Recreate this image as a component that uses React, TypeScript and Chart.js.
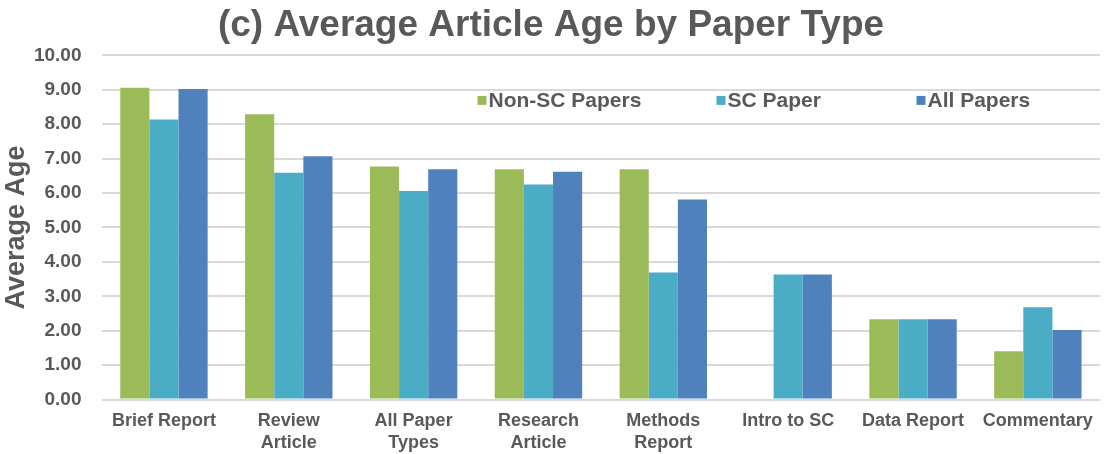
import React, { useEffect, useRef } from "react";
import { Chart, registerables } from "chart.js";

Chart.register(...registerables);

const categories: (string | string[])[] = [
  "Brief Report",
  ["Review", "Article"],
  ["All Paper", "Types"],
  ["Research", "Article"],
  ["Methods", "Report"],
  "Intro to SC",
  "Data Report",
  "Commentary",
];

const nonScPapers: (number | null)[] = [9.06, 8.29, 6.77, 6.69, 6.69, null, 2.33, 1.4];
const scPaper: number[] = [8.14, 6.59, 6.06, 6.25, 3.69, 3.63, 2.33, 2.68];
const allPapers: number[] = [9.02, 7.07, 6.69, 6.62, 5.81, 3.63, 2.33, 2.02];

const seriesNames = ["Non-SC Papers", "SC Paper", "All Papers"];
const seriesColors = ["#9BBB59", "#4BACC6", "#4F81BD"];

const FONT = "'Liberation Sans', Arial, Helvetica, sans-serif";
const TEXT = "#595959";

// legend item offsets from the left edge of the plot area
const legendOffsets = [376, 615, 815];

const insideLegend = {
  id: "insideLegend",
  afterDraw(chart: any) {
    const { ctx, chartArea } = chart;
    const y = chartArea.top + 45;
    ctx.save();
    ctx.font = `bold 21px ${FONT}`;
    ctx.textBaseline = "middle";
    ctx.textAlign = "left";
    chart.data.datasets.forEach((ds: any, i: number) => {
      const x = chartArea.left + legendOffsets[i];
      ctx.fillStyle = ds.backgroundColor;
      ctx.fillRect(x, y - 4.5, 9, 9);
      ctx.fillStyle = TEXT;
      ctx.fillText(ds.label, x + 11, y + 1);
    });
    ctx.restore();
  },
};

export default function App() {
  const ref = useRef<HTMLCanvasElement>(null);

  useEffect(() => {
    document.body.style.margin = "0";
    if (!ref.current) return;
    const chart = new Chart(ref.current, {
      type: "bar",
      data: {
        labels: categories,
        datasets: [
          { label: seriesNames[0], data: nonScPapers, backgroundColor: seriesColors[0] },
          { label: seriesNames[1], data: scPaper, backgroundColor: seriesColors[1] },
          { label: seriesNames[2], data: allPapers, backgroundColor: seriesColors[2] },
        ],
      },
      options: {
        animation: false,
        responsive: true,
        maintainAspectRatio: false,
        layout: { padding: { top: 4, left: 0, right: 2, bottom: 0 } },
        datasets: {
          bar: { categoryPercentage: 0.7, barPercentage: 1.0, borderWidth: 0 },
        },
        plugins: {
          legend: { display: false },
          tooltip: { enabled: false },
          title: {
            display: true,
            text: "(c) Average Article Age by Paper Type",
            color: TEXT,
            font: { family: FONT, size: 37, weight: "bold", lineHeight: 1.2 },
            padding: { top: 0, bottom: 7 },
          },
        },
        scales: {
          x: {
            grid: { display: false, drawTicks: false },
            border: { display: false },
            ticks: {
              color: TEXT,
              font: { family: FONT, size: 18, weight: "bold", lineHeight: 1.22 },
              padding: 11,
              maxRotation: 0,
              autoSkip: false,
            },
            afterFit: (scale: any) => {
              scale.height = 54.5;
            },
          },
          y: {
            min: 0,
            max: 10,
            grid: { color: "#D9D9D9", lineWidth: 2, drawTicks: false },
            border: { display: false },
            ticks: {
              stepSize: 1,
              color: TEXT,
              font: { family: FONT, size: 19, weight: "bold" },
              padding: 20,
              callback: (v: any) => Number(v).toFixed(2),
            },
            title: {
              display: true,
              text: "Average Age",
              color: TEXT,
              font: { family: FONT, size: 27, weight: "bold", lineHeight: 1.2 },
              padding: { top: 0, bottom: 2 },
            },
            afterFit: (scale: any) => {
              scale.width = 101.5;
            },
          },
        },
      },
      plugins: [insideLegend],
    });
    return () => chart.destroy();
  }, []);

  return (
    <div style={{ position: "relative", width: "1104px", height: "454px", background: "#fff" }}>
      <canvas ref={ref} />
    </div>
  );
}
